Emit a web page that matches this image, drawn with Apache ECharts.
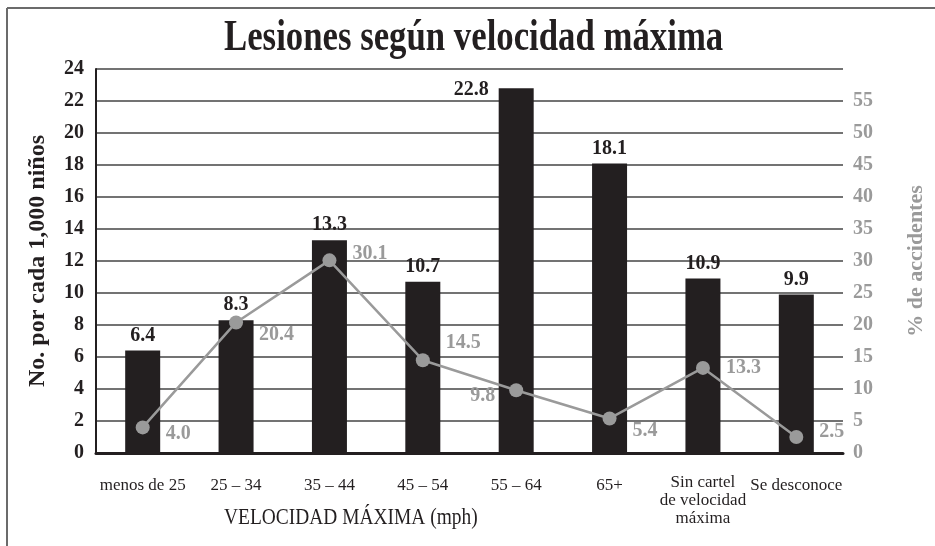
<!DOCTYPE html>
<html>
<head>
<meta charset="utf-8">
<script src="https://cdn.jsdelivr.net/npm/echarts@6/dist/echarts.min.js"></script>
<style>
  html, body { margin: 0; padding: 0; background: #fff; }
  #chart { width: 935px; height: 546px; }
</style>
</head>
<body>
<div id="chart"></div>
<script>
// categorias de velocidad (eje x)
const categories = ['menos de 25', '25 – 34', '35 – 44', '45 – 54', '55 – 64', '65+', 'Sin cartel\nde velocidad\nmáxima', 'Se desconoce'];
// lesiones por cada 1,000 niños (barras)
const injuryRates = [6.4, 8.3, 13.3, 10.7, 22.8, 18.1, 10.9, 9.9];
// % de accidentes (linea)
const accidentPct = [4.0, 20.4, 30.1, 14.5, 9.8, 5.4, 13.3, 2.5];

// where each grey label sits next to its point
const lineLabelPos = [
  ['right', [6, 6]], ['right', [6, 12]], ['right', [6, -7]], ['right', [6, -17]],
  ['left', [-4, 6]], ['right', [6, 12]], ['right', [6, 0]], ['right', [6, -5]]
];

const SERIF = '"Liberation Serif", "DejaVu Serif", serif';
const BLACK = '#231f20';
const GREY = '#9a9a9a';

let chart = echarts.init(document.getElementById('chart'));

let barData = injuryRates.map((v, i) => {
  if (i === 4) {
    return { value: v, label: { position: [-10, -8], align: 'right', verticalAlign: 'top' } };
  }
  return v;
});

let lineData = accidentPct.map((v, i) => ({
  value: v,
  label: { position: lineLabelPos[i][0], offset: lineLabelPos[i][1] }
}));

let option = {
  animation: false,
  graphic: [
    { type: 'line', shape: { x1: 7, y1: 8, x2: 935, y2: 8 }, style: { stroke: '#6b6b6b', lineWidth: 2 } },
    { type: 'line', shape: { x1: 7, y1: 8, x2: 7, y2: 546 }, style: { stroke: '#6b6b6b', lineWidth: 2 } },
    {
      type: 'text', left: 224, top: 17, scaleX: 0.79,
      style: { text: 'Lesiones según velocidad máxima', font: 'bold 44px ' + SERIF, fill: BLACK }
    },
    {
      type: 'text', left: 224, top: 506, scaleX: 0.81,
      style: { text: 'VELOCIDAD MÁXIMA (mph)', font: '24px ' + SERIF, fill: BLACK }
    }
  ],
  grid: { left: 96, right: 89, top: 69, bottom: 93 },
  xAxis: {
    type: 'category',
    data: categories,
    axisLine: { lineStyle: { color: BLACK, width: 3 } },
    axisTick: { show: false },
    axisLabel: {
      interval: 0,
      margin: 21,
      color: BLACK,
      fontFamily: SERIF,
      fontSize: 17,
      lineHeight: 18,
      formatter: (v) => v.indexOf('\n') >= 0 ? v : '{p|' + v + '}',
      rich: { p: { fontFamily: SERIF, fontSize: 17, color: BLACK, padding: [6, 0, 0, 0] } }
    }
  },
  yAxis: [
    {
      type: 'value', min: 0, max: 24, interval: 2,
      name: 'No. por cada 1,000 niños',
      nameLocation: 'middle', nameGap: 46, nameRotate: 90,
      nameTextStyle: { fontFamily: SERIF, fontWeight: 'bold', fontSize: 24, color: BLACK },
      axisLine: { show: true, lineStyle: { color: BLACK, width: 2 } },
      axisTick: { show: false },
      axisLabel: { margin: 12, color: BLACK, fontFamily: SERIF, fontWeight: 'bold', fontSize: 20 },
      splitLine: { lineStyle: { color: '#444', width: 1.5 } }
    },
    {
      type: 'value', min: 0, max: 60, interval: 5,
      name: '% de accidentes',
      nameLocation: 'middle', nameGap: 62, nameRotate: 90,
      nameTextStyle: { fontFamily: SERIF, fontWeight: 'bold', fontSize: 22, color: GREY },
      axisLine: { show: false },
      axisTick: { show: false },
      splitLine: { show: false },
      axisLabel: {
        margin: 10, color: GREY, fontFamily: SERIF, fontWeight: 'bold', fontSize: 20,
        formatter: (v) => v === 60 ? '' : v
      }
    }
  ],
  series: [
    {
      name: 'Lesiones',
      type: 'bar',
      yAxisIndex: 0,
      barWidth: 35,
      data: barData,
      itemStyle: { color: BLACK },
      label: {
        show: true, position: 'top', distance: 5,
        color: BLACK, fontFamily: SERIF, fontWeight: 'bold', fontSize: 20,
        formatter: (p) => p.value.toFixed(1)
      }
    },
    {
      name: '% de accidentes',
      type: 'line',
      yAxisIndex: 1,
      data: lineData,
      symbol: 'circle',
      symbolSize: 14,
      lineStyle: { color: GREY, width: 2.5 },
      itemStyle: { color: GREY },
      label: {
        show: true, distance: 10,
        color: GREY, fontFamily: SERIF, fontWeight: 'bold', fontSize: 20,
        formatter: (p) => p.value.toFixed(1)
      }
    }
  ]
};

chart.setOption(option);
</script>
</body>
</html>
